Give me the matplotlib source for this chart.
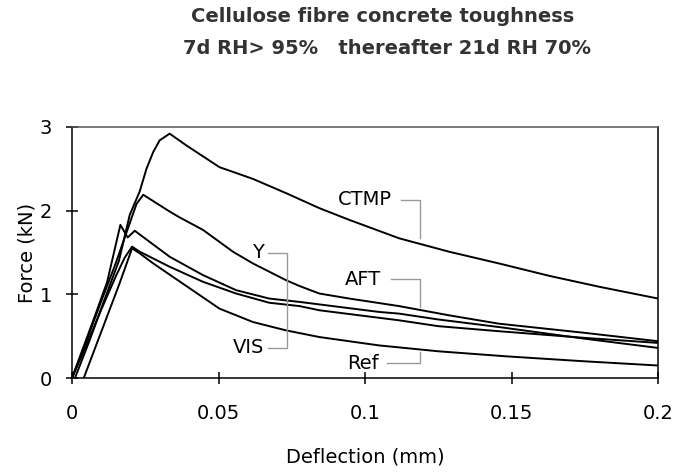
import matplotlib.pyplot as plt

plt.rcParams["font.family"] = ["DejaVu Sans"]

# Kurven (Deflection mm, Force kN)
ctmp_x = [0.001, 0.006, 0.011, 0.016, 0.0197, 0.0231, 0.0254, 0.0277, 0.0299, 0.0333,
          0.039, 0.0503, 0.0617, 0.073, 0.0844, 0.0946, 0.1116, 0.1286, 0.1456, 0.163,
          0.180, 0.2]
ctmp_y = [0.0, 0.45, 0.93, 1.40, 1.95, 2.23, 2.50, 2.70, 2.84, 2.92,
          2.78, 2.52, 2.38, 2.21, 2.03, 1.89, 1.67, 1.51, 1.37, 1.22,
          1.09, 0.95]

aft_x = [0.0, 0.005, 0.010, 0.015, 0.019, 0.022, 0.0243, 0.0333, 0.0367, 0.0447,
         0.0549, 0.0617, 0.073, 0.0776, 0.0844, 0.0946, 0.1116, 0.1286, 0.1456, 0.175,
         0.2]
aft_y = [0.0, 0.45, 0.92, 1.38, 1.78, 2.08, 2.19, 1.99, 1.92, 1.77,
         1.51, 1.37, 1.17, 1.10, 1.01, 0.95, 0.86, 0.75, 0.65, 0.54,
         0.44]

y_x = [0.0, 0.004, 0.008, 0.012, 0.0165, 0.019, 0.0214, 0.0333, 0.0447, 0.056,
       0.0673, 0.0776, 0.0844, 0.1048, 0.1116, 0.125, 0.1456, 0.175, 0.2]
y_y = [0.0, 0.38, 0.76, 1.15, 1.83, 1.68, 1.76, 1.45, 1.23, 1.05,
       0.95, 0.91, 0.88, 0.79, 0.77, 0.70, 0.61, 0.47, 0.36]

vis_x = [0.0, 0.005, 0.010, 0.015, 0.018, 0.0205, 0.0231, 0.0333, 0.0447, 0.056,
         0.0673, 0.0776, 0.0844, 0.1116, 0.125, 0.1456, 0.175, 0.2]
vis_y = [0.0, 0.40, 0.82, 1.22, 1.44, 1.57, 1.51, 1.33, 1.15, 1.01,
         0.90, 0.86, 0.81, 0.69, 0.62, 0.56, 0.48, 0.42]

ref_x = [0.004, 0.008, 0.012, 0.016, 0.0205, 0.0231, 0.0277, 0.039, 0.0503, 0.0617,
         0.073, 0.0844, 0.1048, 0.125, 0.148, 0.175, 0.2]
ref_y = [0.0, 0.37, 0.74, 1.11, 1.55, 1.49, 1.37, 1.10, 0.83, 0.67,
         0.57, 0.49, 0.39, 0.32, 0.26, 0.20, 0.15]

xticks = [0, 0.05, 0.1, 0.15, 0.2]
xtick_labels = ["0", "0.05", "0.1", "0.15", "0.2"]
yticks = [0, 1, 2, 3]

fig = plt.figure(figsize=(6.73, 4.72), dpi=100)
ax = fig.add_axes([0.107, 0.199, 0.871, 0.532])

for xs, ys in [(ctmp_x, ctmp_y), (aft_x, aft_y), (y_x, y_y), (vis_x, vis_y), (ref_x, ref_y)]:
    ax.plot(xs, ys, color="black", lw=1.4, solid_joinstyle="round")

ax.set_xlim(0, 0.2)
ax.set_ylim(0, 3)
ax.set_xticks(xticks)
ax.set_xticklabels(xtick_labels)
ax.set_yticks(yticks)
ax.tick_params(direction="inout", length=9, width=1.1, labelsize=14)
ax.tick_params(axis="x", pad=14)
ax.tick_params(axis="y", pad=10)
for s in ax.spines.values():
    s.set_linewidth(1.1)
ax.spines["top"].set_color("#555555")

ax.set_xlabel("Deflection (mm)", fontsize=14, labelpad=18)
ax.set_ylabel("Force (kN)", fontsize=14, labelpad=2)

# Beschriftungen mit Klammern
grey = "#999999"
lab = dict(fontsize=14, ha="right", va="center")
ax.text(0.1092, 2.13, "CTMP", **lab)
ax.plot([0.1122, 0.1187, 0.1187], [2.13, 2.13, 1.67], color=grey, lw=1.0)
ax.text(0.0655, 1.5, "Y", **lab)
ax.text(0.0655, 0.36, "VIS", **lab)
ax.plot([0.0668, 0.0735, 0.0735, 0.0668], [1.5, 1.5, 0.36, 0.36], color=grey, lw=1.0)
ax.text(0.1054, 1.18, "AFT", **lab)
ax.plot([0.1088, 0.1187, 0.1187], [1.18, 1.18, 0.85], color=grey, lw=1.0)
ax.text(0.1048, 0.18, "Ref", **lab)
ax.plot([0.1075, 0.1187, 0.1187], [0.18, 0.18, 0.31], color=grey, lw=1.0)

fig.text(0.568, 0.964, "Cellulose fibre concrete toughness", ha="center", va="center",
         fontsize=14, fontweight="bold", color="#333333")
fig.text(0.575, 0.898, "7d RH> 95%   thereafter 21d RH 70%", ha="center", va="center",
         fontsize=14, fontweight="bold", color="#333333")

fig.savefig("out.png", dpi=100)
